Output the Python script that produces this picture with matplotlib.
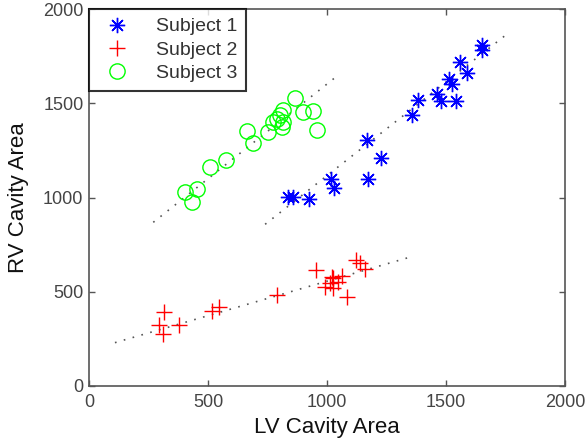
import numpy as np
import matplotlib
matplotlib.use("Agg")
import matplotlib.pyplot as plt

plt.rcParams['font.family'] = ['Liberation Sans', 'DejaVu Sans']

# Subject 1 (blue stars)
s1_lv = [837, 858, 924, 1015, 1029, 1174, 1167, 1227, 1356, 1381,
         1461, 1478, 1542, 1513, 1524, 1559, 1590, 1650, 1650]
s1_rv = [1004, 1001, 992, 1097, 1050, 1098, 1305, 1208, 1437, 1515,
         1551, 1512, 1510, 1627, 1604, 1721, 1662, 1809, 1782]

# Subject 2 (red plus)
s2_lv = [317, 296, 312, 378, 518, 546, 789, 954, 992, 1013, 1027, 1027,
         1045, 1064, 1020, 1083, 1122, 1139, 1160]
s2_rv = [394, 324, 276, 324, 398, 421, 483, 615, 527, 545, 571, 518,
         553, 584, 580, 474, 668, 651, 619]

# Subject 3 (green circles)
s3_lv = [403, 452, 431, 508, 576, 662, 690, 753, 789, 803, 817, 810,
         774, 814, 866, 901, 940, 957]
s3_rv = [1031, 1043, 978, 1160, 1199, 1353, 1291, 1349, 1415, 1438,
         1402, 1376, 1402, 1464, 1526, 1452, 1461, 1358]

# Regression lines: (x_start, x_end, slope, intercept)
fit1 = (740, 1760, 0.993, 123)
fit2 = (109, 1342, 0.366, 190)
fit3 = (270, 1034, 1.005, 597)

labels = ['Subject 1', 'Subject 2', 'Subject 3']
xticks = [0, 500, 1000, 1500, 2000]
yticks = [0, 500, 1000, 1500, 2000]

fig = plt.figure(figsize=(5.87, 4.46), dpi=100)
ax = fig.add_axes([89/587, 60/446, 476/587, 377/446])

dot_style = dict(color='#555555', linestyle=(0, (1, 4.5)), linewidth=1.2, zorder=1)
for f in (fit1, fit2, fit3):
    xs = np.array([f[0], f[1]])
    ax.plot(xs, f[2] * xs + f[3], **dot_style)

ax.plot(s1_lv, s1_rv, marker=(8, 2, 0), color='#0000ff', markersize=11,
        markeredgewidth=1.0, linestyle='none', label=labels[0], zorder=3)
ax.plot(s2_lv, s2_rv, '+', color='#ff0000', markersize=11, markeredgewidth=1.0,
        linestyle='none', label=labels[1], zorder=3)
ax.plot(s3_lv, s3_rv, 'o', color='#00ff00', markerfacecolor='none', markersize=11,
        markeredgewidth=1.0, linestyle='none', label=labels[2], zorder=3)

ax.set_xlim(0, 2000)
ax.set_ylim(0, 2000)
ax.set_xticks(xticks)
ax.set_yticks(yticks)
ax.tick_params(direction='in', top=True, right=True, length=4, width=1,
               colors='#555555', labelsize=13, labelcolor='#444444')
ax.tick_params(axis='x', pad=6)
ax.tick_params(axis='y', pad=4)
for s in ax.spines.values():
    s.set_color('#555555')
    s.set_linewidth(1.2)

ax.set_xlabel('LV Cavity Area', fontsize=16, color='#111111', labelpad=4)
ax.set_ylabel('RV Cavity Area', fontsize=16, color='#111111', labelpad=10)

leg = ax.legend(loc='upper left', bbox_to_anchor=(0, 1), borderaxespad=0,
                fontsize=14, frameon=True, fancybox=False, edgecolor='black',
                labelspacing=0.3, handlelength=2.0, handletextpad=1.0,
                borderpad=0.45, numpoints=1)
leg.get_frame().set_linewidth(1.5)
for t in leg.get_texts():
    t.set_color('#333333')

fig.savefig('out.png', dpi=100)
